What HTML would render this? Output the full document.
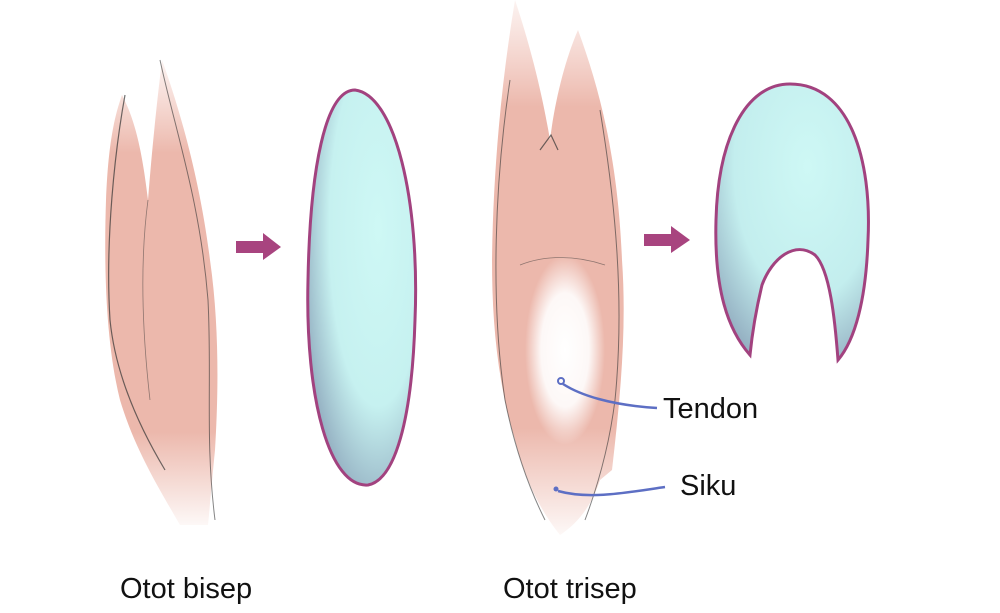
<!DOCTYPE html>
<html><head><meta charset="utf-8"><style>
html,body{margin:0;padding:0;background:#fff;}
svg{display:block;}
text{font-family:"Liberation Sans",sans-serif;fill:#111;}
</style></head><body>
<svg width="1000" height="613" viewBox="0 0 1000 613" xmlns="http://www.w3.org/2000/svg">
<defs>
<radialGradient id="cy" cx="0.65" cy="0.35" r="0.75">
<stop offset="0" stop-color="#cef8f5"/><stop offset="0.6" stop-color="#c6f1f0"/><stop offset="1" stop-color="#8fa9bd"/></radialGradient>
<radialGradient id="cy2" cx="0.6" cy="0.3" r="0.8">
<stop offset="0" stop-color="#cef8f5"/><stop offset="0.6" stop-color="#c3eeee"/><stop offset="1" stop-color="#8fa9bd"/></radialGradient>
<linearGradient id="pk" x1="0" y1="0" x2="0" y2="1">
<stop offset="0" stop-color="#f0c2b8" stop-opacity="0.2"/><stop offset="0.2" stop-color="#ecb8ac"/><stop offset="0.8" stop-color="#ecb8ac"/><stop offset="1" stop-color="#ecb8ac" stop-opacity="0.1"/></linearGradient>
<radialGradient id="wh" cx="0.5" cy="0.5" r="0.5"><stop offset="0" stop-color="#fff"/><stop offset="0.6" stop-color="#fff" stop-opacity="0.9"/><stop offset="1" stop-color="#fff" stop-opacity="0"/></radialGradient>
</defs>
<!-- bicep -->
<path d="M122 95 C135 120,142 150,148 200 C152 150,156 110,162 60 C180 110,200 180,210 260 C220 330,218 400,215 450 C212 480,210 505,208 525 L180 525 C160 490,135 450,120 400 C105 340,104 260,106 200 C108 150,113 120,122 95 Z" fill="url(#pk)"/>
<path d="M125 95 C115 150,105 240,110 320 C115 370,135 420,165 470" fill="none" stroke="#333" stroke-width="1.2" opacity="0.7"/>
<path d="M160 60 C175 130,200 200,208 300 C212 380,205 440,215 520" fill="none" stroke="#333" stroke-width="1" opacity="0.6"/>
<path d="M148 200 C140 260,142 330,150 400" fill="none" stroke="#333" stroke-width="0.8" opacity="0.5"/>
<!-- ellipse -->
<path d="M355 90 C395 95,420 200,415 320 C412 420,395 480,368 485 C330 488,305 400,308 280 C310 170,325 90,355 90 Z" fill="url(#cy)" stroke="#a2427f" stroke-width="3"/>
<!-- arrows -->
<path d="M236 241 L263 241 L263 233 L281 247 L263 260 L263 253 L236 253 Z" fill="#a8447f"/>
<path d="M644 234 L671 234 L671 226 L690 240 L671 253 L671 246 L644 246 Z" fill="#a8447f"/>
<!-- tricep -->
<path d="M515 0 C535 60,545 110,550 140 C555 100,565 60,578 30 C600 90,618 160,622 260 C627 330,620 400,612 470 L600 480 C590 510,575 525,560 535 C540 510,525 480,515 440 C497 380,492 320,492 260 C493 180,500 90,515 0 Z" fill="url(#pk)"/>
<ellipse cx="565" cy="350" rx="40" ry="95" fill="url(#wh)"/>
<path d="M510 80 C495 180,490 300,505 400 C515 450,530 490,545 520" fill="none" stroke="#333" stroke-width="1" opacity="0.6"/>
<path d="M600 110 C615 200,625 300,615 400 C610 440,600 480,585 520" fill="none" stroke="#333" stroke-width="1" opacity="0.6"/>
<path d="M540 150 L551 135 L558 150" fill="none" stroke="#333" stroke-width="1.2" opacity="0.7"/>
<path d="M520 265 C545 255,575 255,605 265" fill="none" stroke="#333" stroke-width="0.8" opacity="0.5"/>
<!-- horseshoe -->
<path d="M790 84 C850 84,872 160,868 240 C866 300,855 340,838 360 C835 320,830 270,815 255 C795 240,772 258,762 285 C756 310,752 335,750 355 C728 330,714 290,716 220 C718 140,745 84,790 84 Z" fill="url(#cy2)" stroke="#a2427f" stroke-width="3"/>
<!-- leaders -->
<circle cx="561" cy="381" r="3" fill="none" stroke="#5d6fc4" stroke-width="2"/>
<path d="M563 384 C580 395,610 405,657 408" fill="none" stroke="#5d6fc4" stroke-width="2.5"/>
<circle cx="556" cy="489" r="2.5" fill="#5d6fc4"/>
<path d="M558 491 C590 500,630 492,665 487" fill="none" stroke="#5d6fc4" stroke-width="2.5"/>
<text x="663" y="418" font-size="29">Tendon</text>
<text x="680" y="495" font-size="29">Siku</text>
<text x="120" y="598" font-size="29">Otot bisep</text>
<text x="503" y="598" font-size="29">Otot trisep</text>
</svg>
</body></html>
